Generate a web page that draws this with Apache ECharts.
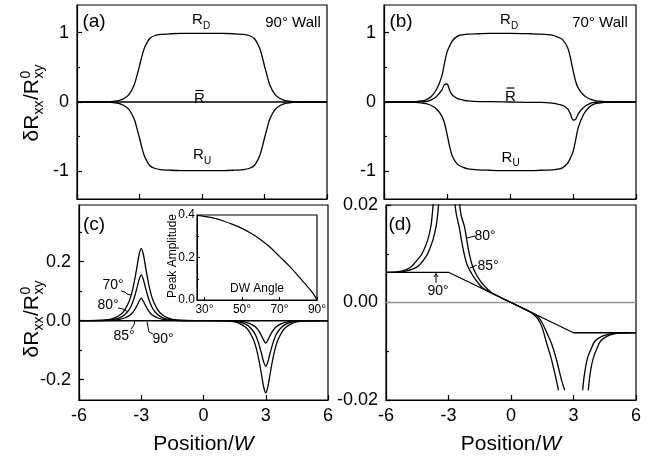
<!DOCTYPE html>
<html><head><meta charset="utf-8">
<script src="https://cdn.jsdelivr.net/npm/echarts@6/dist/echarts.min.js"></script>
<style>html,body{margin:0;padding:0;background:#fff}#c{width:657px;height:459px}</style>
</head><body><div id="c"></div><script>
// ---------- DATA ----------
// panels (a),(b): position grid
const xAB = [-6,-5,-4.5,-4.25,-4,-3.75,-3.5,-3.25,-3.125,-3,-2.875,-2.75,-2.5,-2.25,-2,-1.5,-1,0,1,1.5,2,2.25,2.5,2.75,2.875,3,3.125,3.25,3.5,3.75,4,4.25,4.5,5,6];
// (a) 90 deg wall
const aRD = [0,0,0.003,0.01,0.02,0.05,0.11,0.25,0.38,0.52,0.67,0.79,0.92,0.96,0.975,0.985,0.99,0.99,0.99,0.985,0.975,0.96,0.92,0.79,0.67,0.52,0.38,0.25,0.11,0.05,0.02,0.01,0.003,0,0];
const aRU = [0,0,-0.003,-0.01,-0.02,-0.05,-0.11,-0.25,-0.38,-0.52,-0.67,-0.79,-0.92,-0.96,-0.975,-0.985,-0.99,-0.99,-0.99,-0.985,-0.975,-0.96,-0.92,-0.79,-0.67,-0.52,-0.38,-0.25,-0.11,-0.05,-0.02,-0.01,-0.003,0,0];
const aRbar = [0,0,0,0,0,0,0,0,0,0,0,0,0,0,0,0,0,0,0,0,0,0,0,0,0,0,0,0,0,0,0,0,0,0,0];
// (b) 70 deg wall
const bRD = [0,0,0.005,0.015,0.03,0.08,0.18,0.37,0.55,0.72,0.81,0.88,0.95,0.97,0.98,0.985,0.99,0.99,0.985,0.98,0.965,0.94,0.9,0.78,0.64,0.46,0.3,0.2,0.1,0.05,0.025,0.012,0.005,0,0];
const bRU = [0,0,-0.005,-0.012,-0.025,-0.05,-0.1,-0.2,-0.3,-0.46,-0.64,-0.78,-0.9,-0.94,-0.965,-0.98,-0.985,-0.99,-0.99,-0.985,-0.98,-0.97,-0.95,-0.88,-0.81,-0.72,-0.55,-0.37,-0.18,-0.08,-0.03,-0.015,-0.005,0,0];
const bRbar = [0,0,0,0.003,0.005,0.03,0.08,0.17,0.25,0.26,0.17,0.1,0.05,0.03,0.015,0.005,0.005,0,-0.005,-0.005,-0.015,-0.03,-0.05,-0.1,-0.17,-0.26,-0.25,-0.17,-0.08,-0.03,-0.005,-0.003,0,0,0];

// (c) peaks for several wall angles
const xC = [-6,-5,-4.5,-4.25,-4,-3.8,-3.6,-3.5,-3.4,-3.3,-3.2,-3.1,-3,-2.9,-2.8,-2.7,-2.6,-2.5,-2.4,-2.2,-2,-1.75,-1.5,-1,0,1,1.5,1.75,2,2.2,2.4,2.5,2.6,2.7,2.8,2.9,3,3.1,3.2,3.3,3.4,3.5,3.6,3.8,4,4.25,4.5,5,6];
const c70 = [0,0.001,0.004,0.01,0.021,0.036,0.063,0.083,0.11,0.145,0.185,0.225,0.245,0.225,0.185,0.145,0.11,0.083,0.063,0.036,0.021,0.01,0.004,0.001,0,-0.001,-0.004,-0.01,-0.021,-0.036,-0.063,-0.083,-0.11,-0.145,-0.185,-0.225,-0.245,-0.225,-0.185,-0.145,-0.11,-0.083,-0.063,-0.036,-0.021,-0.01,-0.004,-0.001,0];
const c80 = [0,0.0005,0.002,0.005,0.011,0.02,0.036,0.048,0.065,0.087,0.113,0.14,0.155,0.14,0.113,0.087,0.065,0.048,0.036,0.02,0.011,0.005,0.002,0.0005,0,-0.0005,-0.002,-0.005,-0.011,-0.02,-0.036,-0.048,-0.065,-0.087,-0.113,-0.14,-0.155,-0.14,-0.113,-0.087,-0.065,-0.048,-0.036,-0.02,-0.011,-0.005,-0.002,-0.0005,0];
const c85 = [0,0,0.001,0.002,0.005,0.009,0.016,0.021,0.029,0.039,0.052,0.066,0.076,0.066,0.052,0.039,0.029,0.021,0.016,0.009,0.005,0.002,0.001,0,0,0,-0.001,-0.002,-0.005,-0.009,-0.016,-0.021,-0.029,-0.039,-0.052,-0.066,-0.076,-0.066,-0.052,-0.039,-0.029,-0.021,-0.016,-0.009,-0.005,-0.002,-0.001,0,0];
const c90 = [0,0,0,0,0,0,0,0,0,0,0,0,0,0,0,0,0,0,0,0,0,0,0,0,0,0,0,0,0,0,0,0,0,0,0,0,0,0,0,0,0,0,0,0,0,0,0,0,0];

// inset: peak amplitude vs domain-wall angle
const insetAngle = [26,30,35,40,45,50,55,60,65,70,75,80,85,88,90];
const insetAmp = [0.398,0.393,0.385,0.372,0.356,0.337,0.313,0.284,0.248,0.205,0.162,0.114,0.062,0.03,0];

// (d) branches
const d90X = [-6,-3,3,6];
const d90Y = [0.0062,0.0062,-0.0062,-0.0062];
const d80aX = [-6,-5.5,-5.2,-5,-4.75,-4.5,-4.27,-4,-3.85,-3.78,-3.72];
const d80aY = [0.0062,0.0063,0.0065,0.0068,0.0075,0.0087,0.01,0.0128,0.0155,0.018,0.021];
const d85aX = [-6,-5.5,-5,-4.7,-4.44,-4.2,-4,-3.75,-3.6,-3.52,-3.46];
const d85aY = [0.0062,0.0062,0.0065,0.0069,0.0075,0.0087,0.01,0.0128,0.0155,0.018,0.021];
const d80bX = [-2.47,-2.4,-2.23,-2.05,-1.88,-1.7,-1.5,-1.3,-1.1,-0.9,-0.5,0,0.5,0.9,1.1,1.3,1.5,1.7,1.9,2.1,2.28];
const d80bY = [0.0205,0.018,0.0155,0.011,0.0079,0.006,0.0046,0.0035,0.0026,0.0019,0.00103,0,-0.00103,-0.0019,-0.0025,-0.0034,-0.0052,-0.0082,-0.011,-0.0145,-0.018];
const d85bX = [-2.7,-2.62,-2.49,-2.3,-2.12,-1.9,-1.7,-1.5,-1.3,-1.1,-0.5,0,0.5,1.1,1.3,1.5,1.75,1.96,2.2,2.4,2.58];
const d85bY = [0.0205,0.018,0.0155,0.011,0.0079,0.006,0.0047,0.0036,0.0028,0.0023,0.00103,0,-0.00103,-0.0023,-0.0029,-0.0042,-0.0065,-0.0086,-0.012,-0.0155,-0.018];
const d85cX = [3.44,3.5,3.6,3.7,3.85,4.03,4.38,4.7,5,6];
const d85cY = [-0.018,-0.0155,-0.0128,-0.011,-0.0095,-0.0079,-0.0069,-0.0065,-0.0063,-0.0062];
const d80cX = [3.71,3.77,3.87,3.98,4.12,4.3,4.62,4.9,5.2,6];
const d80cY = [-0.018,-0.0155,-0.0128,-0.011,-0.0095,-0.0079,-0.0069,-0.0065,-0.0063,-0.0062];
const zeroX = [-6,6];
const zeroY = [0,0];

// tick values
const yTicksAB = [-1,0,1];
const yMinorAB = [-0.5,0.5];
const yTicksC = [-0.2,0,0.2];
const yMinorC = [-0.1,0.1,0.3];
const insetXTicks = [30,50,70,90];

// ---------- CHART ----------
const FONT = '"Liberation Sans", Arial, Helvetica, sans-serif';
const K = '#000';
const pairs = (xs, ys) => xs.map((x, i) => [x, ys[i]]);
const chart = echarts.init(document.getElementById('c'), null, {width:657, height:459});

const gridBox = {show:true, borderColor:K, borderWidth:1.2, backgroundColor:'transparent'};
const grids = [
  Object.assign({left:77, top:5, width:250, height:194}, gridBox),
  Object.assign({left:384, top:5, width:252, height:194}, gridBox),
  Object.assign({left:79, top:205, width:249, height:195}, gridBox),
  Object.assign({left:386, top:205, width:250, height:195}, gridBox),
  Object.assign({left:197, top:215, width:120, height:85}, gridBox, {backgroundColor:'#fff'})
];

const lbl = (size, extra) => Object.assign({color:K, fontSize:size, fontFamily:FONT}, extra || {});
function xMain(gi, labels) {
  return {
    type:'value', gridIndex:gi, min:-6, max:6, interval:3,
    axisLine:{show:true, onZero:false, lineStyle:{color:K, width:1.2}},
    axisTick:{show:true, inside:true, length:5, lineStyle:{color:K, width:1.2}},
    axisLabel:lbl(18, {show:labels, margin:7}),
    splitLine:{show:false},
    name: labels ? '{n|Position/}{w|W}' : '',
    nameLocation:'middle', nameGap:34,
    nameTextStyle:{rich:{n:lbl(21), w:lbl(21, {fontStyle:'italic'})}}
  };
}
function yMajor(gi, min, max, vals, fmt) {
  return {
    type:'value', gridIndex:gi, min:min, max:max, position:'left',
    axisLine:{show:true, onZero:false, lineStyle:{color:K, width:1.2}},
    axisTick:{show:true, inside:true, length:5, customValues:vals, lineStyle:{color:K, width:1.2}},
    axisLabel:lbl(18, {customValues:vals, margin:8, formatter:fmt}),
    splitLine:{show:false}
  };
}
function yMinor(gi, min, max, vals) {
  return {
    type:'value', gridIndex:gi, min:min, max:max, position:'left',
    axisLine:{show:false, onZero:false},
    axisTick:{show:true, inside:true, length:3, customValues:vals, lineStyle:{color:K, width:1.2}},
    axisLabel:{show:false},
    splitLine:{show:false}
  };
}

const xAxes = [
  xMain(0, false), xMain(1, false), xMain(2, true), xMain(3, true),
  {
    type:'value', gridIndex:4, min:26, max:90,
    axisLine:{show:true, onZero:false, lineStyle:{color:K, width:1}},
    axisTick:{show:true, inside:true, length:3, customValues:insetXTicks, lineStyle:{color:K}},
    axisLabel:lbl(12, {customValues:insetXTicks, margin:4, formatter: v => v + '°'}),
    splitLine:{show:false}
  }
];
const yAxes = [
  yMajor(0, -1.4, 1.4, yTicksAB, v => String(v)), yMinor(0, -1.4, 1.4, yMinorAB),
  yMajor(1, -1.4, 1.4, yTicksAB, v => String(v)), yMinor(1, -1.4, 1.4, yMinorAB),
  yMajor(2, -0.269, 0.392, yTicksC, v => v.toFixed(1)), yMinor(2, -0.269, 0.392, yMinorC),
  {
    type:'value', gridIndex:3, min:-0.02, max:0.02, interval:0.02, position:'left',
    axisLine:{show:true, onZero:false, lineStyle:{color:K, width:1.2}},
    axisTick:{show:true, inside:true, length:5, lineStyle:{color:K, width:1.2}},
    minorTick:{show:true, splitNumber:2, length:3, lineStyle:{color:K, width:1.2}},
    axisLabel:lbl(18, {margin:8, formatter: v => v.toFixed(2)}),
    splitLine:{show:false}
  },
  {
    type:'value', gridIndex:4, min:0, max:0.4, interval:0.2, position:'left',
    axisLine:{show:true, onZero:false, lineStyle:{color:K, width:1}},
    axisTick:{show:true, inside:true, length:3, lineStyle:{color:K}},
    minorTick:{show:true, splitNumber:2, length:2, lineStyle:{color:K}},
    axisLabel:lbl(12, {margin:2, formatter: v => v.toFixed(1)}),
    splitLine:{show:false}
  }
];

function line(xi, yi, data, extra) {
  return Object.assign({
    type:'line', xAxisIndex:xi, yAxisIndex:yi, data:data, showSymbol:false, symbol:'none',
    smooth:0.3, lineStyle:{color:K, width:1.3}, silent:true, animation:false, clip:true, z:3
  }, extra || {});
}

const series = [
  line(0, 0, pairs(xAB, aRD)), line(0, 0, pairs(xAB, aRU)), line(0, 0, pairs(xAB, aRbar), {smooth:false}),
  line(1, 2, pairs(xAB, bRD)), line(1, 2, pairs(xAB, bRU)), line(1, 2, pairs(xAB, bRbar)),
  line(2, 4, pairs(xC, c70)), line(2, 4, pairs(xC, c80)), line(2, 4, pairs(xC, c85)),
  line(2, 4, pairs(xC, c90), {smooth:false, lineStyle:{color:K, width:1.5}}),
  line(3, 6, pairs(zeroX, zeroY), {smooth:false, lineStyle:{color:'#999', width:1.3}, z:2}),
  line(3, 6, pairs(d90X, d90Y), {smooth:false}),
  line(3, 6, pairs(d80aX, d80aY)), line(3, 6, pairs(d85aX, d85aY)),
  line(3, 6, pairs(d80bX, d80bY)), line(3, 6, pairs(d85bX, d85bY)),
  line(3, 6, pairs(d80cX, d80cY)), line(3, 6, pairs(d85cX, d85cY)),
  line(4, 7, pairs(insetAngle, insetAmp), {lineStyle:{color:K, width:1.2}})
];

// ---------- ANNOTATIONS ----------
function T(x, y, text, size, opt) {
  opt = opt || {};
  return {type:'text', x:x, y:y, silent:true, z:10, rotation:opt.rot || 0,
    style:{text:text, font:(opt.italic ? 'italic ' : '') + size + 'px ' + FONT, fill:K,
      textAlign:opt.align || 'center', textVerticalAlign:opt.valign || 'middle'}};
}
function L(points, w) {
  return {type:'polyline', silent:true, z:10, shape:{points:points}, style:{stroke:K, lineWidth:w || 1, fill:null}};
}
function yTitle(cx, cy) {
  const s = 21, ss = 14;
  const mid = (b, size) => b - 0.35 * size;
  return {type:'group', x:cx, y:cy + 38.5, rotation:Math.PI / 2, silent:true, children:[
    T(0, mid(0, s), 'δR', s, {align:'left'}),
    T(27, mid(4, ss), 'xx', ss, {align:'left'}),
    T(41.5, mid(0, s), '/R', s, {align:'left'}),
    T(63, mid(-9, ss), '0', ss, {align:'left'}),
    T(63, mid(4, ss), 'xy', ss, {align:'left'})
  ]};
}
function Rsub(x, y, sub) {
  return [T(x, y, 'R', 15), T(x + 5.5, y + 6, sub, 10, {align:'left'})];
}
function Rbar(x, y, by) {
  return [T(x, y, 'R', 15), L([[x - 4, by], [x + 4, by]], 1.2)];
}

const graphic = [].concat(
  [yTitle(40, 103), yTitle(40, 319)],
  [T(94, 22, '(a)', 19), T(293, 23, '90° Wall', 15), T(401, 22, '(b)', 19), T(600, 23, '70° Wall', 15),
   T(94, 225, '(c)', 19), T(400, 225, '(d)', 19)],
  Rsub(197.5, 20, 'D'), Rbar(199.5, 98.5, 90.5), Rsub(198.5, 155, 'U'),
  Rsub(505.5, 20, 'D'), Rbar(510.5, 97, 88), Rsub(507, 157.5, 'U'),
  // (c) angle labels
  [T(113, 285, '70°', 14), L([[121, 291], [125, 292], [127, 294], [131, 295]]),
   T(108, 305, '80°', 14), L([[118, 308], [123, 309], [128, 312]]),
   T(124, 336, '85°', 14), L([[131, 329], [134, 325], [135, 320]]),
   T(163, 339, '90°', 14), L([[153, 334], [149, 332], [147, 322]])],
  // (d) angle labels
  [T(485, 236.5, '80°', 14), L([[475, 236], [467, 238]]),
   T(488, 266, '85°', 14), L([[477, 265], [470, 268]]),
   T(438, 291, '90°', 14), L([[436, 283], [436, 274]]), L([[434, 277], [436, 273.5], [438, 277]])],
  // inset labels
  [T(257, 289, 'DW Angle', 12), T(173, 256, 'Peak Amplitude', 12, {rot:Math.PI / 2})]
);

chart.setOption({
  animation:false,
  backgroundColor:'#fff',
  grid:grids, xAxis:xAxes, yAxis:yAxes, series:series, graphic:graphic
});
</script></body></html>
